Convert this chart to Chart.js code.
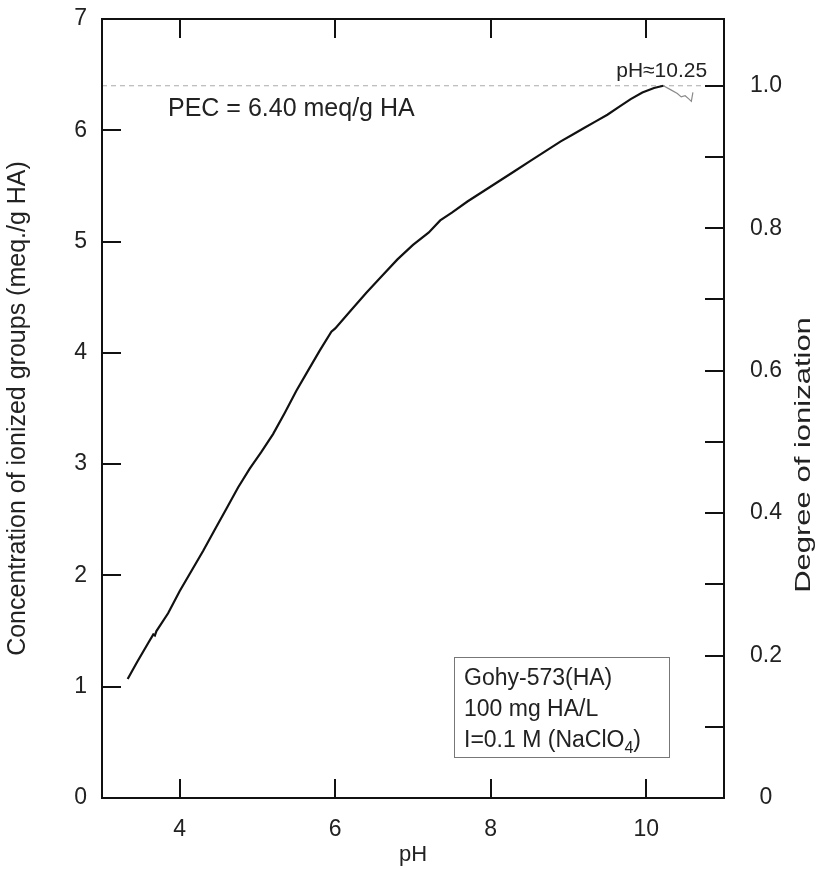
<!DOCTYPE html>
<html>
<head>
<meta charset="utf-8">
<script src="https://cdn.jsdelivr.net/npm/chart.js@4.4.1/dist/chart.umd.min.js"></script>
<style>
  html, body { margin: 0; padding: 0; background: #fff; }
  #wrap { width: 822px; height: 870px; }
</style>
</head>
<body>
<div id="wrap"><canvas id="myChart" width="822" height="870"></canvas></div>
<script>
// Titration curve, measured part (black) up to the PEC point
const phMeasured = [3.33, 3.45, 3.60, 3.66, 3.68, 3.70, 3.85, 4.00, 4.15, 4.30, 4.45, 4.60, 4.75, 4.90,
  5.05, 5.20, 5.35, 5.50, 5.65, 5.80, 5.95, 6.00, 6.20, 6.40, 6.60, 6.80, 7.00, 7.20, 7.35, 7.50,
  7.70, 7.90, 8.10, 8.30, 8.50, 8.70, 8.90, 9.05, 9.20, 9.35, 9.50, 9.65, 9.80, 9.95, 10.10, 10.22];
const concMeasured = [1.07, 1.22, 1.40, 1.47, 1.46, 1.50, 1.66, 1.86, 2.04, 2.22, 2.41, 2.60, 2.79, 2.96,
  3.11, 3.27, 3.46, 3.66, 3.84, 4.02, 4.19, 4.22, 4.38, 4.54, 4.69, 4.84, 4.97, 5.08, 5.19, 5.26,
  5.36, 5.45, 5.54, 5.63, 5.72, 5.81, 5.90, 5.96, 6.02, 6.08, 6.14, 6.21, 6.28, 6.34, 6.38, 6.40];
// after the maximum (grey)
const phBeyond = [10.22, 10.30, 10.40, 10.45, 10.50, 10.55, 10.58, 10.60];
const concBeyond = [6.40, 6.37, 6.33, 6.30, 6.31, 6.28, 6.26, 6.34];

const pecValue = 6.40;
const pecPh = 10.25;
const xTicks = [4, 6, 8, 10];
const yTicks = [0, 1, 2, 3, 4, 5, 6, 7];
const degreeTicks = [0, 0.2, 0.4, 0.6, 0.8, 1.0];
const degreeMinor = [0.1, 0.2, 0.3, 0.4, 0.5, 0.6, 0.7, 0.8, 0.9, 1.0];
const boxLines = ['Gohy-573(HA)', '100 mg HA/L', 'I=0.1 M (NaClO'];

const FONT = "'Liberation Sans', Arial, sans-serif";
const TXT = '#222';

function toPoints(xs, ys) {
  return xs.map((x, i) => ({ x: x, y: ys[i] }));
}

// frame + inward tick marks
const framePlugin = {
  id: 'frame',
  afterDraw(chart) {
    const ctx = chart.ctx;
    const a = chart.chartArea;
    const sx = chart.scales.x, sy = chart.scales.y, s2 = chart.scales.y2;
    const len = 19;
    ctx.save();
    ctx.strokeStyle = '#111';
    ctx.lineWidth = 2;
    ctx.strokeRect(a.left, a.top, a.right - a.left, a.bottom - a.top);
    ctx.beginPath();
    xTicks.forEach(v => {
      const px = Math.round(sx.getPixelForValue(v));
      ctx.moveTo(px, a.bottom); ctx.lineTo(px, a.bottom - len);
      ctx.moveTo(px, a.top); ctx.lineTo(px, a.top + len);
    });
    yTicks.forEach(v => {
      if (v <= 0 || v >= 7) return;
      const py = Math.round(sy.getPixelForValue(v));
      ctx.moveTo(a.left, py); ctx.lineTo(a.left + len, py);
    });
    degreeMinor.forEach(v => {
      const py = Math.round(s2.getPixelForValue(v));
      ctx.moveTo(a.right, py); ctx.lineTo(a.right - len, py);
    });
    ctx.stroke();
    ctx.restore();
  }
};

// texts: PEC note, pH note, info box, right axis title
const notesPlugin = {
  id: 'notes',
  afterDraw(chart) {
    const ctx = chart.ctx;
    const a = chart.chartArea;
    const sx = chart.scales.x, sy = chart.scales.y;
    const pecY = sy.getPixelForValue(pecValue);
    ctx.save();
    ctx.fillStyle = TXT;
    ctx.textBaseline = 'alphabetic';

    ctx.font = '25px ' + FONT;
    ctx.textAlign = 'left';
    ctx.fillText('PEC = 6.40 meq/g HA', a.left + 66, pecY + 30);

    ctx.font = '21px ' + FONT;
    ctx.textAlign = 'center';
    ctx.fillText('pH\u224810.25', sx.getPixelForValue(pecPh) - 4, pecY - 9);

    // info box
    const bx = a.left + 352, by = a.bottom - 141, bw = a.right - 55 - bx, bh = 100;
    ctx.strokeStyle = '#777';
    ctx.lineWidth = 1;
    ctx.strokeRect(bx + 0.5, by + 0.5, bw, bh);
    ctx.font = '23px ' + FONT;
    ctx.textAlign = 'left';
    boxLines.forEach((t, i) => {
      ctx.fillText(t, bx + 10, by + 28 + i * 31);
    });
    const w3 = ctx.measureText(boxLines[2]).width;
    ctx.font = '16px ' + FONT;
    ctx.fillText('4', bx + 10 + w3, by + 28 + 2 * 31 + 6);
    const w4 = ctx.measureText('4').width;
    ctx.font = '23px ' + FONT;
    ctx.fillText(')', bx + 10 + w3 + w4, by + 28 + 2 * 31);

    // right axis title, reading bottom to top, condensed
    ctx.translate(804, 455);
    ctx.rotate(-Math.PI / 2);
    ctx.scale(1, 0.74);
    ctx.font = '31px ' + FONT;
    ctx.textAlign = 'center';
    ctx.textBaseline = 'middle';
    ctx.fillText('Degree of ionization', 0, 0);
    ctx.restore();
  }
};

new Chart(document.getElementById('myChart'), {
  type: 'line',
  data: {
    datasets: [
      {
        data: toPoints(phMeasured, concMeasured),
        borderColor: '#111',
        borderWidth: 2.2,
        pointRadius: 0,
        yAxisID: 'y'
      },
      {
        data: toPoints(phBeyond, concBeyond),
        borderColor: '#8a8a8a',
        borderWidth: 1.2,
        pointRadius: 0,
        yAxisID: 'y'
      },
      {
        data: [{ x: 3, y: pecValue }, { x: 11, y: pecValue }],
        borderColor: '#aaa',
        borderWidth: 1.2,
        borderDash: [5, 4],
        pointRadius: 0,
        yAxisID: 'y'
      }
    ]
  },
  options: {
    responsive: false,
    animation: false,
    layout: { padding: { top: 19, left: 0, right: 0, bottom: 0 } },
    plugins: { legend: { display: false }, tooltip: { enabled: false } },
    scales: {
      x: {
        type: 'linear',
        position: 'bottom',
        min: 3,
        max: 11,
        grid: { display: false },
        border: { display: false },
        afterBuildTicks: s => { s.ticks = xTicks.map(v => ({ value: v })); },
        afterFit: s => { s.height = 72; s.paddingLeft = 0; s.paddingRight = 0; },
        ticks: { color: TXT, font: { family: FONT, size: 23 }, padding: 10, maxRotation: 0 },
        title: { display: true, text: 'pH', color: TXT, font: { family: FONT, size: 22 }, padding: { top: 0, bottom: 2 } }
      },
      y: {
        type: 'linear',
        position: 'left',
        min: 0,
        max: 7,
        grid: { display: false },
        border: { display: false },
        afterBuildTicks: s => { s.ticks = yTicks.map(v => ({ value: v })); },
        afterFit: s => { s.width = 102; s.paddingTop = 0; s.paddingBottom = 0; },
        ticks: { color: TXT, font: { family: FONT, size: 23 }, padding: 7 },
        title: { display: true, text: 'Concentration of ionized groups (meq./g HA)', color: TXT, font: { family: FONT, size: 25 }, padding: { top: 3, bottom: 0 } }
      },
      y2: {
        type: 'linear',
        position: 'right',
        min: 0,
        max: 7 / pecValue,
        grid: { display: false },
        border: { display: false },
        afterBuildTicks: s => { s.ticks = degreeTicks.map(v => ({ value: v })); },
        afterFit: s => { s.width = 98; s.paddingTop = 0; s.paddingBottom = 0; },
        ticks: {
          color: TXT,
          font: { family: FONT, size: 23 },
          padding: 18,
          crossAlign: 'center',
          callback: v => (v === 0 ? '0' : v.toFixed(1))
        }
      }
    }
  },
  plugins: [framePlugin, notesPlugin]
});
</script>
</body>
</html>
